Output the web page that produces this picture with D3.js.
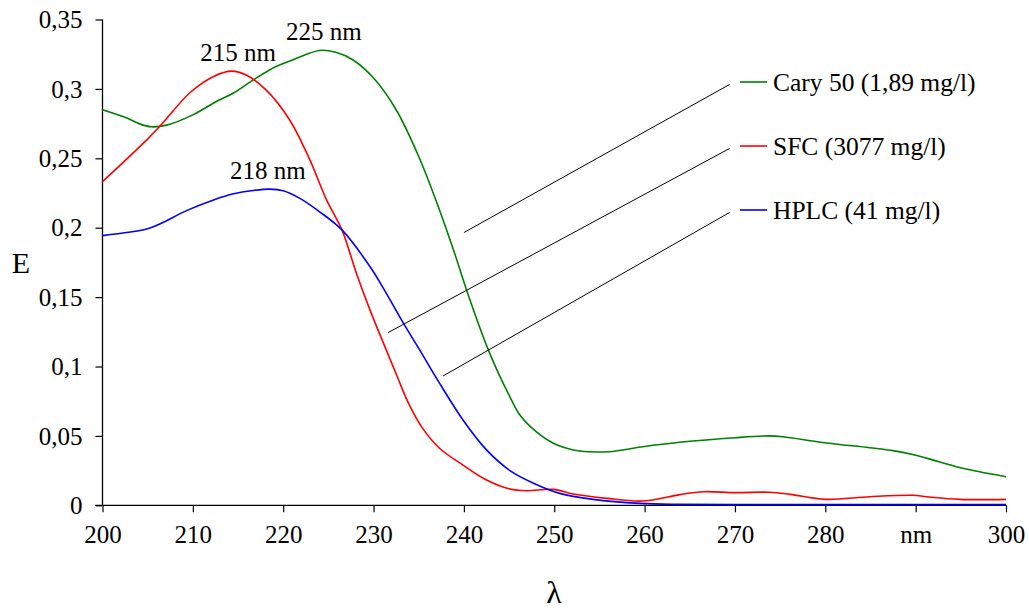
<!DOCTYPE html>
<html><head><meta charset="utf-8">
<script src="https://cdn.jsdelivr.net/npm/d3@7"></script>
<style>
body{margin:0;background:#fff;}
text{font-family:"Liberation Serif","Times New Roman",serif;fill:#000;}
</style></head>
<body><svg id="c" width="1029" height="610"></svg>
<script>
// Data
const caryX = [200,202.7,204.1,205.4,207.1,210,212.6,214.5,216.7,219.2,221.1,224,225.9,227.7,230,232.5,235,237.3,239,240.3,242.7,244,244.9,246.2,248,249.9,252.1,253.9,256.1,259.8,263.9,270,273.8,275.3,279.9,284.9,287.5,289.9,292.6,295.2,300];
const caryY = [0.285,0.279,0.2748,0.2727,0.2739,0.2813,0.2909,0.297,0.3065,0.3161,0.321,0.3277,0.3262,0.321,0.3078,0.285,0.2513,0.2128,0.181,0.155,0.112,0.0927,0.0807,0.065,0.053,0.0447,0.0399,0.0386,0.0386,0.0422,0.0454,0.0487,0.050,0.0494,0.0451,0.0415,0.0394,0.0363,0.0314,0.0267,0.0206];
const sfcX = [200,204.9,206.4,209.7,212.3,214.3,215.9,218.1,220.7,222.95,224.8,226.5,228.1,229.6,231.4,232.7,233.8,235.3,237.3,239.9,242.5,245.1,246.9,249.9,252.1,255.8,259.8,263.9,266.5,270,273.8,276.1,280,284.9,289.7,291.2,294.9,300];
const sfcY = [0.2332,0.2633,0.2734,0.2974,0.309,0.3128,0.310,0.2993,0.2778,0.2489,0.220,0.1984,0.1672,0.1408,0.112,0.0915,0.0745,0.0567,0.0411,0.029,0.0182,0.0117,0.0105,0.0115,0.0081,0.005,0.0031,0.0077,0.0098,0.0091,0.0094,0.0079,0.0043,0.0062,0.0072,0.0062,0.0043,0.0043];
const hplcX = [200,204.9,206.4,209.3,212.3,214.5,216.7,218.5,220,221.8,224,226.5,229.6,231.4,233.3,235.1,237.3,239.9,242.5,245.1,247.7,250.6,254.3,259.5,263.9,270,280,290,300];
const hplcY = [0.1943,0.199,0.2028,0.2123,0.220,0.2244,0.2268,0.2278,0.2266,0.2213,0.2116,0.1984,0.172,0.1528,0.1312,0.112,0.088,0.0615,0.0399,0.025,0.0159,0.0086,0.0043,0.0014,0.0007,0.0005,0.0005,0.0005,0.0005];
const seriesNames = ["Cary 50 (1,89 mg/l)","SFC (3077 mg/l)","HPLC (41 mg/l)"];
const seriesColors = ["#008000","#ff0000","#0000ff"];
const xTicks = [200,210,220,230,240,250,260,270,280,290,300];
const xTickLabels = ["200","210","220","230","240","250","260","270","280","nm","300"];
const yTicks = [0,0.05,0.1,0.15,0.2,0.25,0.3,0.35];
const yTickLabels = ["0","0,05","0,1","0,15","0,2","0,25","0,3","0,35"];
const peakLabels = [{t:"215 nm",x:215,y:0.3128},{t:"225 nm",x:224.5,y:0.3277},{t:"218 nm",x:218.3,y:0.2278}];
// annotation pointer start points (data coords)
const pointerStarts = [{x:240,y:0.1965},{x:231.6,y:0.1244},{x:237.7,y:0.0932}];

const svg = d3.select("#c");
const x = d3.scaleLinear().domain([200,300]).range([102.5,1006]);
const y = d3.scaleLinear().domain([0,0.35]).range([505.3,19.5]);

// axes
const xAxis = d3.axisBottom(x).tickValues(xTicks).tickSize(7).tickFormat((d,i)=>xTickLabels[i]);
const gx = svg.append("g").attr("transform","translate(0,505.3)").call(xAxis);
gx.attr("font-family",null);
gx.select(".domain").attr("stroke","#000").attr("stroke-width",1.3).attr("d","M95,0H1006");
gx.selectAll(".tick line").attr("stroke","#000").attr("stroke-width",1.2);
gx.selectAll(".tick text").attr("font-size",25).attr("y",20).attr("dy","0.71em");

const yAxis = d3.axisLeft(y).tickValues(yTicks).tickSize(7).tickFormat((d,i)=>yTickLabels[i]);
const gy = svg.append("g").attr("transform","translate(102.5,0)").call(yAxis);
gy.attr("font-family",null);
gy.select(".domain").attr("stroke","#000").attr("stroke-width",1.3).attr("d","M0,19.5V505.3");
gy.selectAll(".tick line").attr("stroke","#000").attr("stroke-width",1.2);
gy.selectAll(".tick text").attr("font-size",25).attr("x",-20).attr("dy","0.33em");

// lines
const series = [[caryX,caryY],[sfcX,sfcY],[hplcX,hplcY]];
const line = d3.line().x(d=>x(d[0])).y(d=>y(d[1])).curve(d3.curveCatmullRom.alpha(0.5));
series.forEach((s,i)=>{
  const pts = s[0].map((v,j)=>[v,s[1][j]]);
  svg.append("path").datum(pts).attr("d",line).attr("fill","none")
    .attr("stroke",seriesColors[i]).attr("stroke-width",1.6);
});

// legend
const legX = 740, legY = [82,146,210];
seriesNames.forEach((n,i)=>{
  svg.append("line").attr("x1",legX).attr("x2",767).attr("y1",legY[i]).attr("y2",legY[i])
    .attr("stroke",seriesColors[i]).attr("stroke-width",1.6);
  svg.append("text").attr("x",773).attr("y",legY[i]+9).attr("font-size",25.5).text(n);
  const p = pointerStarts[i];
  svg.append("line").attr("x1",x(p.x)).attr("y1",y(p.y)).attr("x2",729.5).attr("y2",legY[i]+2.5)
    .attr("stroke","#000").attr("stroke-width",1);
});

// peak labels
peakLabels.forEach(p=>{
  svg.append("text").attr("x",x(p.x)).attr("y",y(p.y)-10).attr("text-anchor","middle").attr("font-size",25).text(p.t);
});

// axis titles
svg.append("text").attr("x",21).attr("y",273).attr("text-anchor","middle").attr("font-size",30).text("E");
svg.append("text").attr("x",554).attr("y",603).attr("text-anchor","middle").attr("font-size",32).text("λ");
</script></body></html>
